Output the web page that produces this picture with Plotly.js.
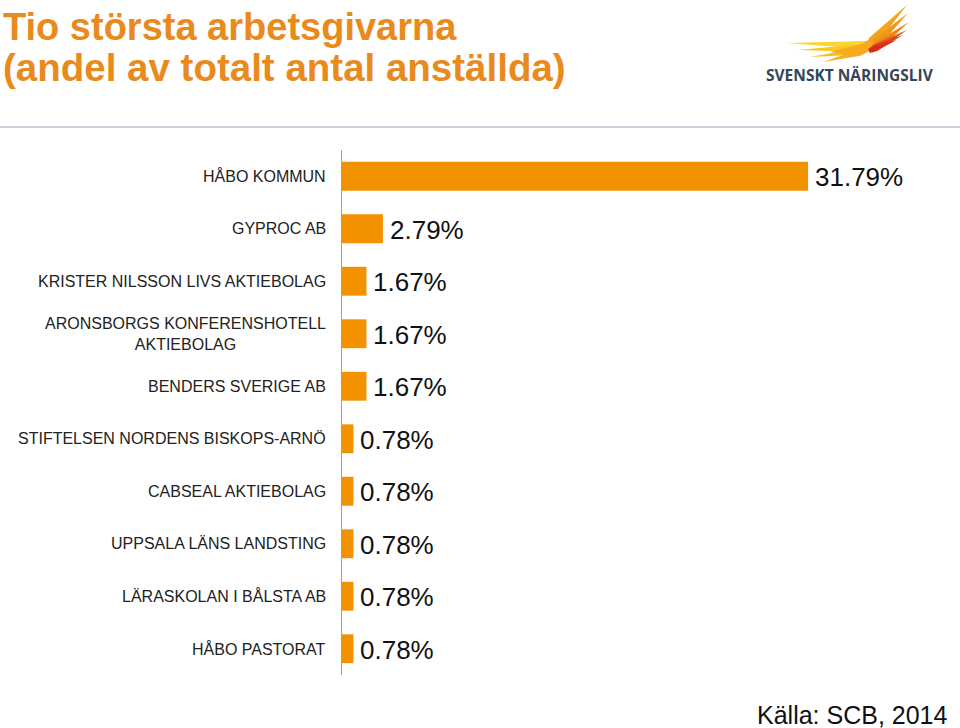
<!DOCTYPE html>
<html>
<head>
<meta charset="utf-8">
<script src="https://cdn.plot.ly/plotly-3.0.1.min.js"></script>
<style>html,body{margin:0;padding:0;background:#fff;}#chart{width:960px;height:728px;}</style>
</head>
<body>
<div id="chart"></div>
<script>
var categories = [
  "HÅBO KOMMUN",
  "GYPROC AB",
  "KRISTER NILSSON LIVS AKTIEBOLAG",
  "ARONSBORGS KONFERENSHOTELL<br>AKTIEBOLAG",
  "BENDERS SVERIGE AB",
  "STIFTELSEN NORDENS BISKOPS-ARNÖ",
  "CABSEAL AKTIEBOLAG",
  "UPPSALA LÄNS LANDSTING",
  "LÄRASKOLAN I BÅLSTA AB",
  "HÅBO PASTORAT"
];
var shares = [31.79, 2.79, 1.67, 1.67, 1.67, 0.78, 0.78, 0.78, 0.78, 0.78];
var valueLabels = ["31.79%", "2.79%", "1.67%", "1.67%", "1.67%", "0.78%", "0.78%", "0.78%", "0.78%", "0.78%"];
var titleLines = ["Tio största arbetsgivarna", "(andel av totalt antal anställda)"];
var sourceNote = "Källa: SCB, 2014";
var logoText = "SVENSKT NÄRINGSLIV";

var W = 960, H = 728;
function px(x) { return x / W; }
function py(y) { return 1 - y / H; }
var FONT = "Liberation Sans, Arial, sans-serif";

var annotations = [];
categories.forEach(function (c) {
  annotations.push({
    xref: "paper", yref: "y", x: px(328), y: c,
    xanchor: "right", yanchor: "middle", align: "center",
    text: c, showarrow: false,
    font: { family: FONT, size: 16, color: "#222222" }
  });
});
categories.forEach(function (c, i) {
  annotations.push({
    xref: "x", yref: "y", x: shares[i], y: c, xshift: 5, yshift: -1,
    xanchor: "left", yanchor: "middle",
    text: valueLabels[i], showarrow: false,
    font: { family: FONT, size: 26, color: "#111111" }
  });
});
annotations.push({
  xref: "paper", yref: "paper", x: px(1), y: py(27), xanchor: "left", yanchor: "middle",
  text: "<b>" + titleLines[0] + "</b>", showarrow: false,
  font: { family: FONT, size: 38, color: "#e98a1c" }
});
annotations.push({
  xref: "paper", yref: "paper", x: px(1), y: py(67), xanchor: "left", yanchor: "middle",
  text: "<b>" + titleLines[1] + "</b>", showarrow: false,
  font: { family: FONT, size: 38.5, color: "#e98a1c" }
});
annotations.push({
  xref: "paper", yref: "paper", x: px(949), y: py(715), xanchor: "right", yanchor: "middle",
  text: sourceNote, showarrow: false,
  font: { family: FONT, size: 25, color: "#111111" }
});
annotations.push({
  xref: "paper", yref: "paper", x: px(850), y: py(75), xanchor: "center", yanchor: "middle",
  text: "<b>" + logoText + "</b>", showarrow: false,
  font: { family: "Open Sans, DejaVu Sans, sans-serif", size: 15.5, color: "#36455a" }
});

// logo feathers: triangle with base (width w) at root, point at tip
function quill(rx, ry, tx, ty, w, color) {
  var dx = tx - rx, dy = ty - ry, L = Math.sqrt(dx * dx + dy * dy);
  var nx = -dy / L * w / 2, ny = dx / L * w / 2;
  var p = "M" + px(tx) + "," + py(ty) +
    " L" + px(rx + nx) + "," + py(ry + ny) +
    " L" + px(rx - nx) + "," + py(ry - ny) + " Z";
  return { type: "path", xref: "paper", yref: "paper", path: p, fillcolor: color, line: { width: 0 } };
}
function poly(pts, color) {
  var p = pts.map(function (q, i) { return (i ? " L" : "M") + px(q[0]) + "," + py(q[1]); }).join("") + " Z";
  return { type: "path", xref: "paper", yref: "paper", path: p, fillcolor: color, line: { width: 0 } };
}
var shapes = [
  { type: "line", xref: "paper", yref: "paper", x0: 0, x1: 1, y0: py(127), y1: py(127),
    line: { color: "#c9d3de", width: 2 } },
  // left yellow feathers
  quill(866, 45, 787, 43, 8, "#fbd42c"),
  quill(864, 48, 797, 50, 8, "#f9c824"),
  quill(862, 51, 810, 57, 7, "#f7bd22"),
  quill(858, 53, 823, 62, 6, "#f5b020"),
  // body
  poly([[830, 52], [862, 44], [880, 32], [886, 28], [882, 44], [860, 56]], "#f6a91c"),
  // upper orange feathers
  quill(872, 42, 907, 5, 10, "#f3a41a"),
  quill(875, 44, 908, 13, 9, "#f29618"),
  quill(877, 46, 909, 22, 8, "#ef8618"),
  // red feathers
  quill(875, 48, 907, 30, 8, "#e65a1c"),
  quill(873, 49, 903, 35, 7, "#df3f1e"),
  quill(871, 50, 897, 40, 6, "#d83020"),
  quill(869, 51, 887, 43, 5, "#d42a20")
];

var trace = {
  type: "bar", orientation: "h",
  y: categories, x: shares,
  marker: { color: "#f39200", line: { width: 0 } },
  width: 0.55, hoverinfo: "none"
};

var layout = {
  width: W, height: H,
  margin: { l: 0, r: 0, t: 0, b: 0 },
  paper_bgcolor: "#ffffff", plot_bgcolor: "#ffffff",
  showlegend: false,
  xaxis: {
    domain: [px(342), px(950)], range: [0, 41.47],
    showgrid: false, zeroline: false, showticklabels: false, showline: false, ticks: ""
  },
  yaxis: {
    domain: [py(675), py(150)], type: "category", autorange: "reversed",
    showgrid: false, zeroline: false, showticklabels: false,
    showline: true, linecolor: "#a0a0a0", linewidth: 1, ticks: ""
  },
  annotations: annotations,
  shapes: shapes
};

Plotly.newPlot("chart", [trace], layout, { displayModeBar: false, staticPlot: true });
</script>
</body>
</html>
